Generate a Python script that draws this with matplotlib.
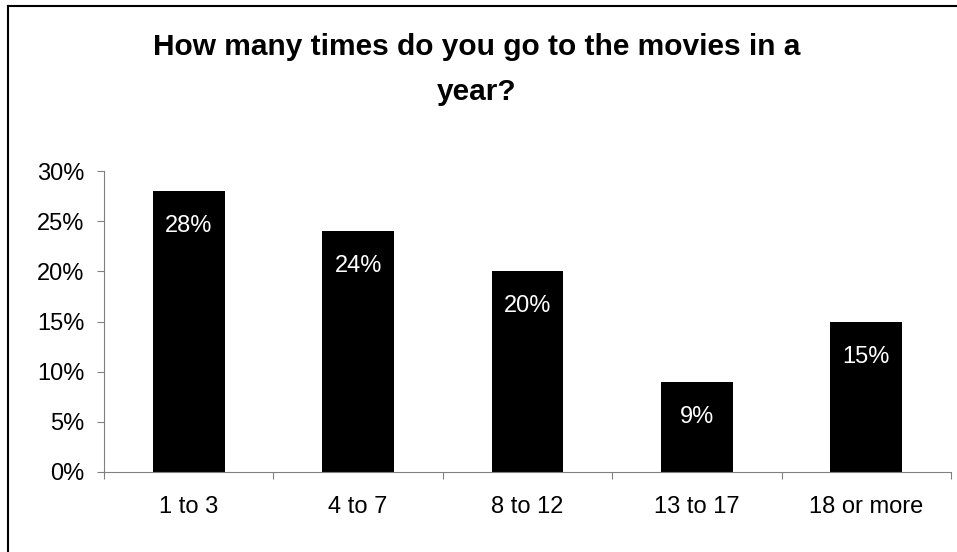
import numpy as np
import matplotlib.pyplot as plt
from matplotlib.ticker import FuncFormatter

categories = ['1 to 3', '4 to 7', '8 to 12', '13 to 17', '18 or more']
shares = [0.28, 0.24, 0.20, 0.09, 0.15]
labels = ['28%', '24%', '20%', '9%', '15%']

plt.rcParams['font.family'] = ['Liberation Sans', 'DejaVu Sans']

fig = plt.figure(figsize=(9.57, 5.52), dpi=100)
ax = fig.add_axes([104 / 957, 80 / 552, 847 / 957, 301 / 552])

x = np.arange(len(categories))
bars = ax.bar(x, shares, width=0.425, color='black')

for b, lab in zip(bars, labels):
    ax.text(b.get_x() + b.get_width() / 2, b.get_height() - 0.041, lab,
            ha='center', va='baseline', color='white', fontsize=17)

ax.set_xlim(-0.5, len(categories) - 0.5)
ax.set_ylim(0, 0.30)
ax.set_yticks(np.arange(0, 0.301, 0.05))
ax.yaxis.set_major_formatter(FuncFormatter(lambda v, p: '%d%%' % round(v * 100)))
ax.set_xticks(np.arange(-0.5, len(categories), 1.0))
ax.set_xticklabels([])
ax.set_xticks(x, minor=True)
ax.set_xticklabels(categories, minor=True)
ax.tick_params(axis='x', which='minor', length=0, pad=17, labelsize=17)
ax.tick_params(axis='x', which='major', length=5, color='#808080', direction='out')
ax.tick_params(axis='y', length=5, color='#808080', labelsize=17, pad=9)

for s in ['top', 'right']:
    ax.spines[s].set_visible(False)
ax.spines['left'].set_color('#808080')
ax.spines['bottom'].set_color('#808080')

fig.text(0.498, 1 - 47 / 552, 'How many times do you go to the movies in a',
         ha='center', va='center', fontsize=21.5, fontweight='bold')
fig.text(0.498, 1 - 92 / 552, 'year?',
         ha='center', va='center', fontsize=21.5, fontweight='bold')

# frame around chart area
fig.add_artist(plt.Line2D([8 / 957, 8 / 957], [0, 1 - 6 / 552], transform=fig.transFigure,
                          color='black', lw=1.5))
fig.add_artist(plt.Line2D([8 / 957, 1], [1 - 6 / 552, 1 - 6 / 552], transform=fig.transFigure,
                          color='black', lw=1.5))

fig.savefig('out.png', dpi=100)
